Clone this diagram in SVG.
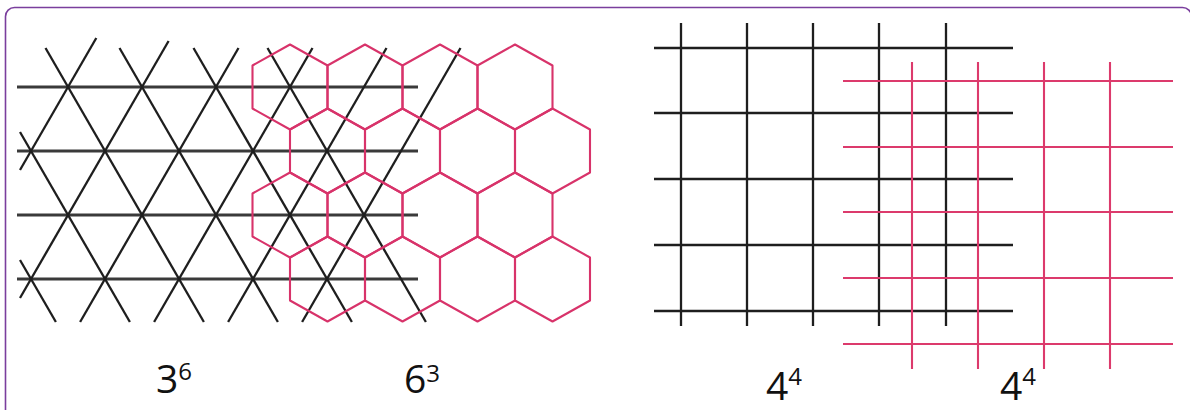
<svg xmlns="http://www.w3.org/2000/svg" width="1190" height="410" viewBox="0 0 1190 410">
<style>
.blk{stroke:#1e1e1e;stroke-width:2.3;fill:none;stroke-linecap:butt}
.hz{stroke:#3a3a3a;stroke-width:2.8;fill:none}
.red{stroke:#dc3a6c;stroke-width:2.1;fill:none}
.hex{stroke:#d8336a;stroke-width:2.1;fill:none;stroke-linejoin:round}
.lbl{font-family:"Open Sans","Liberation Sans",sans-serif;fill:#111;font-size:39px}
.sup{font-size:24px}
</style>
<defs>
<polygon id="hx" points="0,-42.5 37.5,-21.5 37.5,21.5 0,42.5 -37.5,21.5 -37.5,-21.5"/>
</defs>
<rect x="5.5" y="7.5" width="1186" height="430" rx="9" fill="#fff" stroke="#7a3e9d" stroke-width="1.6"/>

<g id="tri-36">
<g class="hz">
<line x1="17" y1="87" x2="418" y2="87"/>
<line x1="17" y1="151" x2="418" y2="151"/>
<line x1="17" y1="215" x2="418" y2="215"/>
<line x1="17" y1="279" x2="418" y2="279"/>
</g>
<g class="blk">
<line x1="45.5" y1="48" x2="203.9" y2="322"/>
<line x1="119.5" y1="48" x2="277.9" y2="322"/>
<line x1="193.5" y1="48" x2="351.9" y2="322"/>
<line x1="267.5" y1="48" x2="425.9" y2="322"/>
<line x1="20" y1="132" x2="129.9" y2="322"/>
<line x1="20" y1="260" x2="55.9" y2="322"/>
<line x1="96.3" y1="38" x2="20" y2="170"/>
<line x1="168.6" y1="41" x2="20" y2="298"/>
<line x1="238.5" y1="48" x2="80.1" y2="322"/>
<line x1="312.5" y1="48" x2="154.1" y2="322"/>
<line x1="386.5" y1="48" x2="228.1" y2="322"/>
<line x1="460.5" y1="48" x2="302.1" y2="322"/>
</g>
</g>

<g id="hex-63" class="hex">
<use href="#hx" x="290" y="87"/>
<use href="#hx" x="365" y="87"/>
<use href="#hx" x="440" y="87"/>
<use href="#hx" x="515" y="87"/>
<use href="#hx" x="327.5" y="151"/>
<use href="#hx" x="402.5" y="151"/>
<use href="#hx" x="477.5" y="151"/>
<use href="#hx" x="552.5" y="151"/>
<use href="#hx" x="290" y="215"/>
<use href="#hx" x="365" y="215"/>
<use href="#hx" x="440" y="215"/>
<use href="#hx" x="515" y="215"/>
<use href="#hx" x="327.5" y="279"/>
<use href="#hx" x="402.5" y="279"/>
<use href="#hx" x="477.5" y="279"/>
<use href="#hx" x="552.5" y="279"/>
</g>

<g id="sq-44-black" class="blk">
<line x1="681" y1="23" x2="681" y2="326"/>
<line x1="747" y1="23" x2="747" y2="326"/>
<line x1="813" y1="23" x2="813" y2="326"/>
<line x1="879" y1="23" x2="879" y2="326"/>
<line x1="946" y1="23" x2="946" y2="326"/>
<line x1="654" y1="48" x2="1013" y2="48"/>
<line x1="654" y1="113" x2="1013" y2="113"/>
<line x1="654" y1="179" x2="1013" y2="179"/>
<line x1="654" y1="245" x2="1013" y2="245"/>
<line x1="654" y1="311" x2="1013" y2="311"/>
</g>

<g id="sq-44-red" class="red">
<line x1="912" y1="62" x2="912" y2="369"/>
<line x1="978" y1="62" x2="978" y2="369"/>
<line x1="1044" y1="62" x2="1044" y2="369"/>
<line x1="1110" y1="62" x2="1110" y2="369"/>
<line x1="843" y1="81" x2="1173" y2="81"/>
<line x1="843" y1="147" x2="1173" y2="147"/>
<line x1="843" y1="212" x2="1173" y2="212"/>
<line x1="843" y1="278" x2="1173" y2="278"/>
<line x1="843" y1="344" x2="1173" y2="344"/>
</g>

<g id="labels">
<text class="lbl" x="156" y="393">3<tspan class="sup" dy="-13">6</tspan></text>
<text class="lbl" x="404" y="393">6<tspan class="sup" dy="-11">3</tspan></text>
<text class="lbl" x="766" y="400">4<tspan class="sup" dy="-15">4</tspan></text>
<text class="lbl" x="1000" y="400">4<tspan class="sup" dy="-15">4</tspan></text>
</g>
</svg>
